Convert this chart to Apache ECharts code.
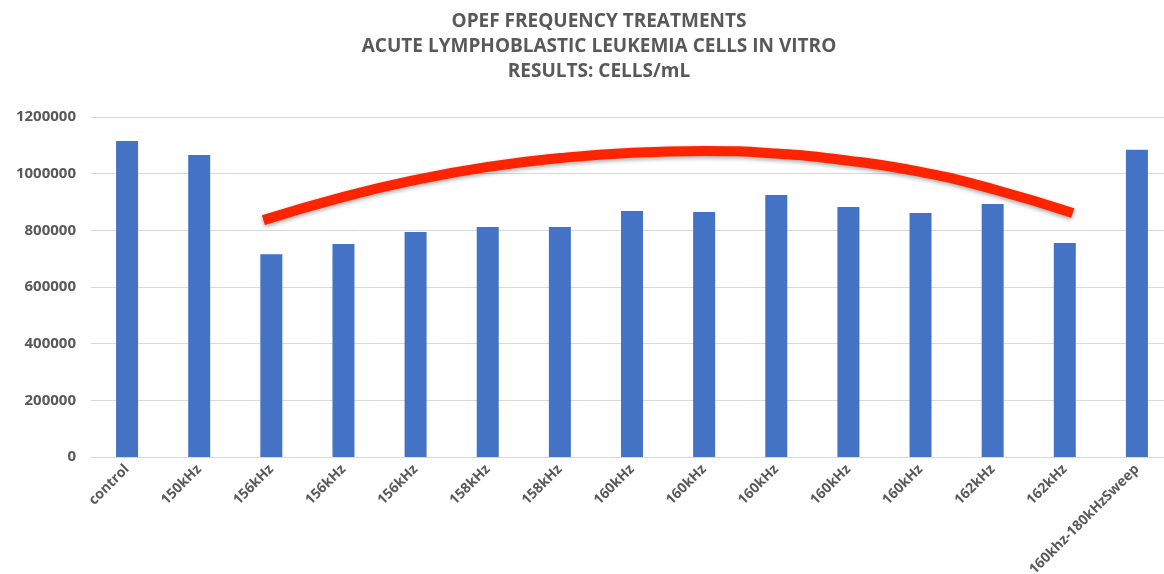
<!DOCTYPE html>
<html>
<head>
<meta charset="utf-8">
<script src="https://cdn.jsdelivr.net/npm/echarts@6/dist/echarts.min.js"></script>
<style>
html,body{margin:0;padding:0;background:#fff;}
#chart{width:1164px;height:574px;}
</style>
</head>
<body>
<div id="chart"></div>
<script>
var titleLines = ['OPEF FREQUENCY TREATMENTS', 'ACUTE LYMPHOBLASTIC LEUKEMIA CELLS IN VITRO', 'RESULTS: CELLS/mL'];
var categories = ['control','150kHz','156kHz','156kHz','156kHz','158kHz','158kHz','160kHz','160kHz','160kHz','160kHz','160kHz','162kHz','162kHz','160khz-180kHzSweep'];
var cellsPerMl = [1115000,1066000,716000,752000,794000,812000,812000,868000,865000,925000,882000,861000,893000,755000,1084000];
var yTicks = [0,200000,400000,600000,800000,1000000,1200000];
// hand-drawn red trend arc (position along categories, value)
var arcX = [1.89,3,4,5,6,7,8,9,10,11,12,13.11];
var arcY = [836000,918000,978000,1024000,1055000,1074000,1080000,1071000,1046000,1006000,946000,861000];

var chart = echarts.init(document.getElementById('chart'), null, {renderer:'canvas'});
var gray = '#595959';
var font = 'Open Sans';
chart.setOption({
  animation:false,
  title:{
    text: titleLines.join('\n'),
    left:594, textAlign:'center', top:4,
    textStyle:{fontFamily:font, fontWeight:'bold', fontSize:19, color:gray, lineHeight:25}
  },
  grid:{left:91, width:1082, top:117, bottom:117, containLabel:false, outerBoundsMode:'none'},
  xAxis:[{
    type:'category', data:categories,
    axisLine:{show:true, lineStyle:{color:'#D9D9D9'}},
    axisTick:{show:false},
    axisLabel:{interval:0, rotate:45, fontFamily:font, fontWeight:'bold', fontSize:14, color:gray, margin:10}
  },{
    type:'value', min:-0.5, max:14.5, show:false
  }],
  yAxis:{
    type:'value', min:yTicks[0], max:yTicks[yTicks.length-1], interval:200000,
    axisLine:{show:false}, axisTick:{show:false},
    splitLine:{lineStyle:{color:'#D9D9D9', width:1}},
    axisLabel:{fontFamily:font, fontWeight:'bold', fontSize:15, color:gray, margin:15,
      formatter:function(v){return String(v);}}
  },
  series:[{
    type:'bar', data:cellsPerMl, barWidth:22, xAxisIndex:0,
    itemStyle:{color:'#4472C4'}
  },{
    type:'line', xAxisIndex:1, smooth:true, symbol:'none',
    data: arcX.map(function(x,i){return [x, arcY[i]];}),
    lineStyle:{color:'#FF2400', width:10, cap:'butt',
      shadowColor:'rgba(0,0,0,0.35)', shadowBlur:4, shadowOffsetY:2},
    z:5
  }]
});
</script>
</body>
</html>
